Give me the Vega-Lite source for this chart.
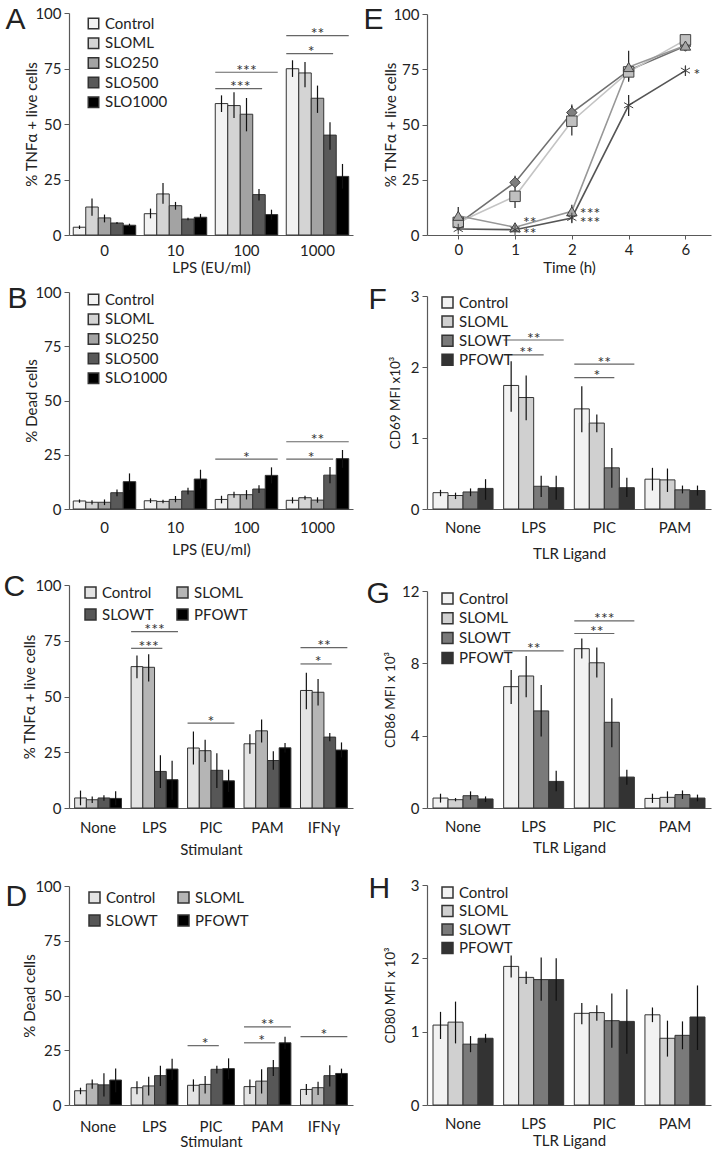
{
  "$schema": "https://vega.github.io/schema/vega-lite/v6.json",
  "background": "white",
  "padding": {"left": 3, "top": 4, "right": 4, "bottom": 2},
  "columns": 2,
  "spacing": {"row": 57, "column": 74},
  "bounds": "flush",
  "resolve": {
    "scale": {"x": "independent", "y": "independent", "xOffset": "independent", "fill": "independent", "stroke": "independent", "shape": "independent"},
    "legend": {"fill": "independent", "shape": "independent", "stroke": "independent"},
    "axis": {"x": "independent", "y": "independent"}
  },
  "config": {
    "font": "Lato",
    "view": {"stroke": null},
    "axis": {"grid": false, "labelFont": "Lato", "titleFont": "Lato", "labelFontSize": 15, "titleFontSize": 15, "titleFontWeight": "normal", "labelColor": "#222222", "titleColor": "#222222", "domainColor": "#595959", "tickColor": "#595959", "domainWidth": 1.2},
    "axisX": {"ticks": false, "labelAngle": 0},
    "axisY": {"tickSize": 5, "labelPadding": 3, "titleBaseline": "middle", "format": "d"},
    "legend": {"labelFont": "Lato", "labelFontSize": 15, "labelColor": "#222222", "symbolType": "square", "labelOffset": 4, "padding": 0},
    "text": {"fill": "#333333", "font": "Lato"}
  },
  "datasets": {
    "aBars": [
      {"g": "0", "s": "Control", "v": 3.5, "lo": 2.7, "hi": 4.3},
      {"g": "0", "s": "SLOML", "v": 12.6, "lo": 8.7, "hi": 16.4},
      {"g": "0", "s": "SLO250", "v": 7.7, "lo": 5.7, "hi": 9.2},
      {"g": "0", "s": "SLO500", "v": 5.4, "lo": 5.0, "hi": 5.9},
      {"g": "0", "s": "SLO1000", "v": 4.4, "lo": 3.6, "hi": 5.1},
      {"g": "10", "s": "Control", "v": 9.6, "lo": 7.5, "hi": 11.9},
      {"g": "10", "s": "SLOML", "v": 18.5, "lo": 14.1, "hi": 23.4},
      {"g": "10", "s": "SLO250", "v": 13.2, "lo": 11.4, "hi": 14.9},
      {"g": "10", "s": "SLO500", "v": 7.2, "lo": 6.6, "hi": 7.8},
      {"g": "10", "s": "SLO1000", "v": 8.0, "lo": 6.6, "hi": 9.5},
      {"g": "100", "s": "Control", "v": 59.2, "lo": 55.4, "hi": 62.9},
      {"g": "100", "s": "SLOML", "v": 58.3, "lo": 52.7, "hi": 64.3},
      {"g": "100", "s": "SLO250", "v": 54.4, "lo": 46.7, "hi": 61.7},
      {"g": "100", "s": "SLO500", "v": 18.2, "lo": 15.5, "hi": 20.7},
      {"g": "100", "s": "SLO1000", "v": 9.2, "lo": 6.9, "hi": 11.4},
      {"g": "1000", "s": "Control", "v": 74.9, "lo": 71.2, "hi": 78.7},
      {"g": "1000", "s": "SLOML", "v": 73.0, "lo": 66.5, "hi": 77.9},
      {"g": "1000", "s": "SLO250", "v": 61.6, "lo": 55.0, "hi": 67.3},
      {"g": "1000", "s": "SLO500", "v": 45.0, "lo": 38.4, "hi": 50.8},
      {"g": "1000", "s": "SLO1000", "v": 26.4, "lo": 20.9, "hi": 32.0}
    ],
    "aLines": [
      {"g": "100", "s": "Control", "y": 65.9, "id": "a1"},
      {"g": "100", "s": "SLO500", "y": 65.9, "id": "a1"},
      {"g": "100", "s": "Control", "y": 73.3, "id": "a2"},
      {"g": "100", "s": "SLO1000", "y": 73.3, "id": "a2"},
      {"g": "1000", "s": "Control", "y": 81.7, "id": "a3"},
      {"g": "1000", "s": "SLO500", "y": 81.7, "id": "a3"},
      {"g": "1000", "s": "Control", "y": 89.8, "id": "a4"},
      {"g": "1000", "s": "SLO1000", "y": 89.8, "id": "a4"}
    ],
    "aText": [
      {"g": "100", "at": "p3", "y": 65.9, "label": "***"},
      {"g": "100", "at": "p4", "y": 73.3, "label": "***"},
      {"g": "1000", "at": "p3", "y": 81.7, "label": "*"},
      {"g": "1000", "at": "p4", "y": 89.8, "label": "**"}
    ],
    "bBars": [
      {"g": "0", "s": "Control", "v": 3.7, "lo": 2.9, "hi": 4.4},
      {"g": "0", "s": "SLOML", "v": 3.1, "lo": 2.1, "hi": 4.0},
      {"g": "0", "s": "SLO250", "v": 3.1, "lo": 1.8, "hi": 4.4},
      {"g": "0", "s": "SLO500", "v": 7.5, "lo": 5.9, "hi": 9.0},
      {"g": "0", "s": "SLO1000", "v": 12.6, "lo": 8.8, "hi": 16.4},
      {"g": "10", "s": "Control", "v": 3.8, "lo": 2.8, "hi": 4.9},
      {"g": "10", "s": "SLOML", "v": 3.5, "lo": 2.6, "hi": 4.3},
      {"g": "10", "s": "SLO250", "v": 4.4, "lo": 3.1, "hi": 6.0},
      {"g": "10", "s": "SLO500", "v": 8.3, "lo": 6.7, "hi": 9.8},
      {"g": "10", "s": "SLO1000", "v": 13.8, "lo": 9.5, "hi": 18.1},
      {"g": "100", "s": "Control", "v": 4.4, "lo": 2.6, "hi": 6.1},
      {"g": "100", "s": "SLOML", "v": 6.6, "lo": 5.2, "hi": 8.0},
      {"g": "100", "s": "SLO250", "v": 6.6, "lo": 4.4, "hi": 8.7},
      {"g": "100", "s": "SLO500", "v": 9.2, "lo": 7.4, "hi": 10.9},
      {"g": "100", "s": "SLO1000", "v": 15.5, "lo": 11.8, "hi": 19.2},
      {"g": "1000", "s": "Control", "v": 4.0, "lo": 2.6, "hi": 5.4},
      {"g": "1000", "s": "SLOML", "v": 5.2, "lo": 4.3, "hi": 6.1},
      {"g": "1000", "s": "SLO250", "v": 4.1, "lo": 2.9, "hi": 5.4},
      {"g": "1000", "s": "SLO500", "v": 15.6, "lo": 11.9, "hi": 19.3},
      {"g": "1000", "s": "SLO1000", "v": 23.2, "lo": 19.0, "hi": 27.2}
    ],
    "bLines": [
      {"g": "100", "s": "Control", "y": 23.0, "id": "b1"},
      {"g": "100", "s": "SLO1000", "y": 23.0, "id": "b1"},
      {"g": "1000", "s": "Control", "y": 23.0, "id": "b2"},
      {"g": "1000", "s": "SLO500", "y": 23.0, "id": "b2"},
      {"g": "1000", "s": "Control", "y": 31.0, "id": "b3"},
      {"g": "1000", "s": "SLO1000", "y": 31.0, "id": "b3"}
    ],
    "bText": [
      {"g": "100", "at": "p4", "y": 23.0, "label": "*"},
      {"g": "1000", "at": "p3", "y": 23.0, "label": "*"},
      {"g": "1000", "at": "p4", "y": 31.0, "label": "**"}
    ],
    "cBars": [
      {"g": "None", "s": "Control", "v": 4.5, "lo": 1.2, "hi": 7.8},
      {"g": "None", "s": "SLOML", "v": 3.7, "lo": 2.2, "hi": 5.2},
      {"g": "None", "s": "SLOWT", "v": 4.5, "lo": 3.3, "hi": 5.7},
      {"g": "None", "s": "PFOWT", "v": 4.3, "lo": 1.2, "hi": 7.5},
      {"g": "LPS", "s": "Control", "v": 63.4, "lo": 58.2, "hi": 68.4},
      {"g": "LPS", "s": "SLOML", "v": 63.1, "lo": 56.7, "hi": 69.0},
      {"g": "LPS", "s": "SLOWT", "v": 16.4, "lo": 9.0, "hi": 23.6},
      {"g": "LPS", "s": "PFOWT", "v": 12.7, "lo": 3.7, "hi": 21.2},
      {"g": "PIC", "s": "Control", "v": 26.9, "lo": 19.5, "hi": 34.3},
      {"g": "PIC", "s": "SLOML", "v": 25.7, "lo": 20.6, "hi": 30.6},
      {"g": "PIC", "s": "SLOWT", "v": 16.9, "lo": 9.0, "hi": 24.6},
      {"g": "PIC", "s": "PFOWT", "v": 12.2, "lo": 7.2, "hi": 17.2},
      {"g": "PAM", "s": "Control", "v": 28.8, "lo": 24.3, "hi": 33.1},
      {"g": "PAM", "s": "SLOML", "v": 34.6, "lo": 29.4, "hi": 39.7},
      {"g": "PAM", "s": "SLOWT", "v": 21.3, "lo": 17.2, "hi": 25.4},
      {"g": "PAM", "s": "PFOWT", "v": 27.0, "lo": 24.9, "hi": 29.1},
      {"g": "IFNγ", "s": "Control", "v": 52.7, "lo": 44.3, "hi": 60.7},
      {"g": "IFNγ", "s": "SLOML", "v": 51.9, "lo": 46.0, "hi": 57.8},
      {"g": "IFNγ", "s": "SLOWT", "v": 31.8, "lo": 29.9, "hi": 33.6},
      {"g": "IFNγ", "s": "PFOWT", "v": 26.0, "lo": 22.7, "hi": 29.4}
    ],
    "cLines": [
      {"g": "LPS", "s": "Control", "y": 71.6, "id": "c1"},
      {"g": "LPS", "s": "SLOWT", "y": 71.6, "id": "c1"},
      {"g": "LPS", "s": "Control", "y": 79.1, "id": "c2"},
      {"g": "LPS", "s": "PFOWT", "y": 79.1, "id": "c2"},
      {"g": "PIC", "s": "Control", "y": 38.1, "id": "c3"},
      {"g": "PIC", "s": "PFOWT", "y": 38.1, "id": "c3"},
      {"g": "IFNγ", "s": "Control", "y": 64.6, "id": "c4"},
      {"g": "IFNγ", "s": "SLOWT", "y": 64.6, "id": "c4"},
      {"g": "IFNγ", "s": "Control", "y": 71.9, "id": "c5"},
      {"g": "IFNγ", "s": "PFOWT", "y": 71.9, "id": "c5"}
    ],
    "cText": [
      {"g": "LPS", "at": "p2", "y": 71.6, "label": "***"},
      {"g": "LPS", "at": "p3", "y": 79.1, "label": "***"},
      {"g": "PIC", "at": "p3", "y": 38.1, "label": "*"},
      {"g": "IFNγ", "at": "p2", "y": 64.6, "label": "*"},
      {"g": "IFNγ", "at": "p3", "y": 71.9, "label": "**"}
    ],
    "dBars": [
      {"g": "None", "s": "Control", "v": 6.5, "lo": 4.9, "hi": 7.9},
      {"g": "None", "s": "SLOML", "v": 9.6, "lo": 7.4, "hi": 11.7},
      {"g": "None", "s": "SLOWT", "v": 9.2, "lo": 3.9, "hi": 14.5},
      {"g": "None", "s": "PFOWT", "v": 11.4, "lo": 5.8, "hi": 16.7},
      {"g": "LPS", "s": "Control", "v": 7.9, "lo": 4.9, "hi": 10.9},
      {"g": "LPS", "s": "SLOML", "v": 8.7, "lo": 4.3, "hi": 12.9},
      {"g": "LPS", "s": "SLOWT", "v": 13.4, "lo": 8.7, "hi": 17.9},
      {"g": "LPS", "s": "PFOWT", "v": 16.4, "lo": 11.4, "hi": 21.1},
      {"g": "PIC", "s": "Control", "v": 9.0, "lo": 6.1, "hi": 11.7},
      {"g": "PIC", "s": "SLOML", "v": 9.4, "lo": 5.3, "hi": 13.2},
      {"g": "PIC", "s": "SLOWT", "v": 16.3, "lo": 14.4, "hi": 17.9},
      {"g": "PIC", "s": "PFOWT", "v": 16.6, "lo": 11.7, "hi": 21.3},
      {"g": "PAM", "s": "Control", "v": 8.4, "lo": 5.0, "hi": 11.7},
      {"g": "PAM", "s": "SLOML", "v": 10.9, "lo": 5.3, "hi": 16.3},
      {"g": "PAM", "s": "SLOWT", "v": 17.0, "lo": 13.2, "hi": 20.5},
      {"g": "PAM", "s": "PFOWT", "v": 28.4, "lo": 25.4, "hi": 31.2},
      {"g": "IFNγ", "s": "Control", "v": 7.1, "lo": 4.6, "hi": 9.6},
      {"g": "IFNγ", "s": "SLOML", "v": 7.9, "lo": 4.6, "hi": 10.6},
      {"g": "IFNγ", "s": "SLOWT", "v": 13.4, "lo": 8.4, "hi": 18.2},
      {"g": "IFNγ", "s": "PFOWT", "v": 14.4, "lo": 12.2, "hi": 16.6}
    ],
    "dLines": [
      {"g": "PIC", "s": "Control", "y": 27.1, "id": "d1"},
      {"g": "PIC", "s": "SLOWT", "y": 27.1, "id": "d1"},
      {"g": "PAM", "s": "Control", "y": 28.4, "id": "d2"},
      {"g": "PAM", "s": "SLOWT", "y": 28.4, "id": "d2"},
      {"g": "PAM", "s": "Control", "y": 35.7, "id": "d3"},
      {"g": "PAM", "s": "PFOWT", "y": 35.7, "id": "d3"},
      {"g": "IFNγ", "s": "Control", "y": 31.2, "id": "d4"},
      {"g": "IFNγ", "s": "PFOWT", "y": 31.2, "id": "d4"}
    ],
    "dText": [
      {"g": "PIC", "at": "p2", "y": 27.1, "label": "*"},
      {"g": "PAM", "at": "p2", "y": 28.4, "label": "*"},
      {"g": "PAM", "at": "p3", "y": 35.7, "label": "**"},
      {"g": "IFNγ", "at": "p3", "y": 31.2, "label": "*"}
    ],
    "eData": [
      {"s": "Control", "t": "0", "v": 5.0, "lo": 4.0, "hi": 6.0},
      {"s": "Control", "t": "1", "v": 23.8, "lo": 21.7, "hi": 26.8},
      {"s": "Control", "t": "2", "v": 55.4, "lo": 52.0, "hi": 59.0},
      {"s": "Control", "t": "4", "v": 74.5, "lo": 72.0, "hi": 77.0},
      {"s": "Control", "t": "6", "v": 85.5, "lo": 84.0, "hi": 87.0},
      {"s": "SLOML", "t": "0", "v": 5.7, "lo": 4.0, "hi": 7.5},
      {"s": "SLOML", "t": "1", "v": 17.5, "lo": 12.2, "hi": 22.0},
      {"s": "SLOML", "t": "2", "v": 51.5, "lo": 45.0, "hi": 58.4},
      {"s": "SLOML", "t": "4", "v": 73.8, "lo": 70.0, "hi": 77.0},
      {"s": "SLOML", "t": "6", "v": 88.3, "lo": 87.0, "hi": 89.5},
      {"s": "SLOWT", "t": "0", "v": 8.7, "lo": 5.1, "hi": 12.7},
      {"s": "SLOWT", "t": "1", "v": 3.5, "lo": 2.5, "hi": 4.5},
      {"s": "SLOWT", "t": "2", "v": 10.7, "lo": 7.7, "hi": 13.7},
      {"s": "SLOWT", "t": "4", "v": 76.0, "lo": 69.4, "hi": 83.4},
      {"s": "SLOWT", "t": "6", "v": 85.7, "lo": 84.0, "hi": 87.5},
      {"s": "PFOWT", "t": "0", "v": 2.7, "lo": 2.0, "hi": 3.5},
      {"s": "PFOWT", "t": "1", "v": 2.4, "lo": 1.5, "hi": 3.3},
      {"s": "PFOWT", "t": "2", "v": 7.7, "lo": 5.5, "hi": 9.9},
      {"s": "PFOWT", "t": "4", "v": 58.7, "lo": 53.9, "hi": 63.4},
      {"s": "PFOWT", "t": "6", "v": 74.4, "lo": 72.0, "hi": 76.5}
    ],
    "eText": [
      {"t": "1", "y": 7.4, "label": "**"},
      {"t": "1", "y": 2.4, "label": "**"},
      {"t": "2", "y": 11.4, "label": "***"},
      {"t": "2", "y": 7.4, "label": "***"},
      {"t": "6", "y": 74.4, "label": "*"}
    ],
    "fBars": [
      {"g": "None", "s": "Control", "v": 0.23, "lo": 0.18, "hi": 0.27},
      {"g": "None", "s": "SLOML", "v": 0.19, "lo": 0.14, "hi": 0.23},
      {"g": "None", "s": "SLOWT", "v": 0.24, "lo": 0.18, "hi": 0.29},
      {"g": "None", "s": "PFOWT", "v": 0.29, "lo": 0.13, "hi": 0.42},
      {"g": "LPS", "s": "Control", "v": 1.74, "lo": 1.37, "hi": 2.08},
      {"g": "LPS", "s": "SLOML", "v": 1.57, "lo": 1.25, "hi": 1.88},
      {"g": "LPS", "s": "SLOWT", "v": 0.32, "lo": 0.17, "hi": 0.47},
      {"g": "LPS", "s": "PFOWT", "v": 0.30, "lo": 0.13, "hi": 0.47},
      {"g": "PIC", "s": "Control", "v": 1.41, "lo": 1.08, "hi": 1.73},
      {"g": "PIC", "s": "SLOML", "v": 1.21, "lo": 1.08, "hi": 1.33},
      {"g": "PIC", "s": "SLOWT", "v": 0.58, "lo": 0.30, "hi": 0.86},
      {"g": "PIC", "s": "PFOWT", "v": 0.30, "lo": 0.17, "hi": 0.44},
      {"g": "PAM", "s": "Control", "v": 0.42, "lo": 0.26, "hi": 0.58},
      {"g": "PAM", "s": "SLOML", "v": 0.41, "lo": 0.24, "hi": 0.57},
      {"g": "PAM", "s": "SLOWT", "v": 0.27, "lo": 0.22, "hi": 0.33},
      {"g": "PAM", "s": "PFOWT", "v": 0.26, "lo": 0.19, "hi": 0.33}
    ],
    "fLines": [
      {"g": "LPS", "s": "Control", "y": 2.17, "id": "f1"},
      {"g": "LPS", "s": "SLOWT", "y": 2.17, "id": "f1"},
      {"g": "LPS", "s": "Control", "y": 2.38, "id": "f2"},
      {"g": "LPS", "s": "PFOWT", "y": 2.38, "id": "f2"},
      {"g": "PIC", "s": "Control", "y": 1.85, "id": "f3"},
      {"g": "PIC", "s": "SLOWT", "y": 1.85, "id": "f3"},
      {"g": "PIC", "s": "Control", "y": 2.04, "id": "f4"},
      {"g": "PIC", "s": "PFOWT", "y": 2.04, "id": "f4"}
    ],
    "fText": [
      {"g": "LPS", "at": "p2", "y": 2.17, "label": "**"},
      {"g": "LPS", "at": "p3", "y": 2.38, "label": "**"},
      {"g": "PIC", "at": "p2", "y": 1.85, "label": "*"},
      {"g": "PIC", "at": "p3", "y": 2.04, "label": "**"}
    ],
    "gBars": [
      {"g": "None", "s": "Control", "v": 0.55, "lo": 0.30, "hi": 0.79},
      {"g": "None", "s": "SLOML", "v": 0.46, "lo": 0.37, "hi": 0.55},
      {"g": "None", "s": "SLOWT", "v": 0.68, "lo": 0.46, "hi": 0.92},
      {"g": "None", "s": "PFOWT", "v": 0.50, "lo": 0.33, "hi": 0.64},
      {"g": "LPS", "s": "Control", "v": 6.71, "lo": 5.75, "hi": 7.63},
      {"g": "LPS", "s": "SLOML", "v": 7.30, "lo": 6.12, "hi": 8.40},
      {"g": "LPS", "s": "SLOWT", "v": 5.37, "lo": 3.95, "hi": 6.80},
      {"g": "LPS", "s": "PFOWT", "v": 1.47, "lo": 0.92, "hi": 2.06},
      {"g": "PIC", "s": "Control", "v": 8.81, "lo": 8.27, "hi": 9.38},
      {"g": "PIC", "s": "SLOML", "v": 8.03, "lo": 7.22, "hi": 8.88},
      {"g": "PIC", "s": "SLOWT", "v": 4.74, "lo": 3.36, "hi": 6.07},
      {"g": "PIC", "s": "PFOWT", "v": 1.71, "lo": 1.29, "hi": 2.11},
      {"g": "PAM", "s": "Control", "v": 0.53, "lo": 0.28, "hi": 0.79},
      {"g": "PAM", "s": "SLOML", "v": 0.59, "lo": 0.28, "hi": 0.92},
      {"g": "PAM", "s": "SLOWT", "v": 0.74, "lo": 0.50, "hi": 0.97},
      {"g": "PAM", "s": "PFOWT", "v": 0.55, "lo": 0.37, "hi": 0.74}
    ],
    "gLines": [
      {"g": "LPS", "s": "Control", "y": 8.69, "id": "g1"},
      {"g": "LPS", "s": "PFOWT", "y": 8.69, "id": "g1"},
      {"g": "PIC", "s": "Control", "y": 9.65, "id": "g2"},
      {"g": "PIC", "s": "SLOWT", "y": 9.65, "id": "g2"},
      {"g": "PIC", "s": "Control", "y": 10.35, "id": "g3"},
      {"g": "PIC", "s": "PFOWT", "y": 10.35, "id": "g3"}
    ],
    "gText": [
      {"g": "LPS", "at": "p3", "y": 8.69, "label": "**"},
      {"g": "PIC", "at": "p2", "y": 9.65, "label": "**"},
      {"g": "PIC", "at": "p3", "y": 10.35, "label": "***"}
    ],
    "hBars": [
      {"g": "None", "s": "Control", "v": 1.09, "lo": 0.90, "hi": 1.27},
      {"g": "None", "s": "SLOML", "v": 1.13, "lo": 0.84, "hi": 1.41},
      {"g": "None", "s": "SLOWT", "v": 0.83, "lo": 0.72, "hi": 0.94},
      {"g": "None", "s": "PFOWT", "v": 0.91, "lo": 0.85, "hi": 0.97},
      {"g": "LPS", "s": "Control", "v": 1.89, "lo": 1.74, "hi": 2.04},
      {"g": "LPS", "s": "SLOML", "v": 1.74, "lo": 1.65, "hi": 1.82},
      {"g": "LPS", "s": "SLOWT", "v": 1.71, "lo": 1.42, "hi": 2.01},
      {"g": "LPS", "s": "PFOWT", "v": 1.71, "lo": 1.42, "hi": 2.00},
      {"g": "PIC", "s": "Control", "v": 1.25, "lo": 1.10, "hi": 1.39},
      {"g": "PIC", "s": "SLOML", "v": 1.26, "lo": 1.15, "hi": 1.36},
      {"g": "PIC", "s": "SLOWT", "v": 1.15, "lo": 0.78, "hi": 1.52},
      {"g": "PIC", "s": "PFOWT", "v": 1.14, "lo": 0.70, "hi": 1.58},
      {"g": "PAM", "s": "Control", "v": 1.23, "lo": 1.13, "hi": 1.33},
      {"g": "PAM", "s": "SLOML", "v": 0.91, "lo": 0.66, "hi": 1.15},
      {"g": "PAM", "s": "SLOWT", "v": 0.95, "lo": 0.76, "hi": 1.14},
      {"g": "PAM", "s": "PFOWT", "v": 1.20, "lo": 0.75, "hi": 1.63}
    ]
  },
  "concat": [
    {
      "width": 284, "height": 222,
      "resolve": {"scale": {"xOffset": "independent"}, "axis": {"x": "independent"}},
      "layer": [
        {
          "data": {"name": "aBars"},
          "mark": {"type": "bar", "stroke": "#333333", "strokeWidth": 1},
          "encoding": {
            "x": {"field": "g", "type": "nominal", "title": "LPS (EU/ml)", "scale": {"domain": ["0", "10", "100", "1000"], "paddingInner": 0.12, "paddingOuter": 0.06}, "axis": {"labelPadding": 8.5, "titlePadding": 2}},
            "xOffset": {"field": "s", "type": "nominal", "scale": {"domain": ["Control", "SLOML", "SLO250", "SLO500", "SLO1000"], "paddingInner": 0, "paddingOuter": 0}},
            "y": {"field": "v", "type": "quantitative", "title": "% TNFα + live cells", "scale": {"domain": [0, 100], "nice": false}, "axis": {"values": [0, 25, 50, 75, 100], "titleX": -38}},
            "fill": {"field": "s", "type": "nominal", "scale": {"domain": ["Control", "SLOML", "SLO250", "SLO500", "SLO1000"], "range": ["#f2f2f2", "#d4d4d4", "#a3a3a3", "#595959", "#000000"]}, "legend": {"title": null, "orient": "none", "legendX": 17, "legendY": 3, "symbolSize": 110, "rowPadding": 2.7, "encode": {"symbols": {"update": {"stroke": {"value": "#333333"}, "strokeWidth": {"value": 1}}}}}}
          }
        },
        {
          "data": {"name": "aBars"},
          "mark": {"type": "rule", "color": "#111111", "strokeWidth": 1.2},
          "encoding": {
            "x": {"field": "g", "type": "nominal", "axis": null},
            "xOffset": {"field": "s", "type": "nominal", "scale": {"domain": ["Control", "SLOML", "SLO250", "SLO500", "SLO1000"], "paddingInner": 0, "paddingOuter": 0}},
            "y": {"field": "lo", "type": "quantitative", "title": "% TNFα + live cells"},
            "y2": {"field": "hi"}
          }
        },
        {
          "data": {"name": "aLines"},
          "mark": {"type": "line", "color": "#666666", "strokeWidth": 1.2},
          "encoding": {
            "x": {"field": "g", "type": "nominal", "axis": {"orient": "top", "title": "A", "titleX": -64, "titleY": 15, "titleAngle": 0, "titleAlign": "left", "titleBaseline": "alphabetic", "titleFont": "Liberation Sans", "titleFontSize": 30, "titleFontWeight": "normal", "domain": false, "labels": false, "ticks": false}},
            "xOffset": {"field": "s", "type": "nominal", "scale": {"domain": ["Control", "SLOML", "SLO250", "SLO500", "SLO1000"], "paddingInner": 0, "paddingOuter": 0}},
            "y": {"field": "y", "type": "quantitative", "title": "% TNFα + live cells"},
            "detail": {"field": "id", "type": "nominal"}
          }
        },
        {
          "data": {"name": "aText"},
          "mark": {"type": "text", "fontSize": 16, "fill": "#333333", "dy": 3.5, "baseline": "alphabetic"},
          "encoding": {
            "x": {"field": "g", "type": "nominal", "axis": null},
            "xOffset": {"field": "at", "type": "nominal", "scale": {"type": "point", "domain": ["p0", "p1", "p2", "p3", "p4", "p5", "p6", "p7", "p8"], "padding": 1}},
            "y": {"field": "y", "type": "quantitative", "title": "% TNFα + live cells"},
            "text": {"field": "label", "type": "nominal"}
          }
        }
      ]
    },
    {
      "width": 284, "height": 222,
      "resolve": {"axis": {"x": "independent"}},
      "layer": [
        {
          "data": {"name": "eData"},
          "mark": {"type": "line", "strokeWidth": 1.6},
          "encoding": {
            "x": {"field": "t", "type": "ordinal", "title": "Time (h)", "scale": {"type": "point", "domain": ["0", "1", "2", "4", "6"], "padding": 0.5, "align": 0.55}, "axis": {"labelPadding": 3.6, "titlePadding": 3, "ticks": true, "tickSize": 4}},
            "y": {"field": "v", "type": "quantitative", "title": "% TNFα + live cells", "scale": {"domain": [0, 100], "nice": false, "rangeMax": 1}, "axis": {"values": [0, 25, 50, 75, 100], "titleX": -36.5}},
            "stroke": {"field": "s", "type": "nominal", "scale": {"domain": ["Control", "SLOML", "SLOWT", "PFOWT"], "range": ["#707070", "#c4c4c4", "#979797", "#555555"]}, "legend": null}
          }
        },
        {
          "data": {"name": "eData"},
          "mark": {"type": "rule", "color": "#222222", "strokeWidth": 1.2},
          "encoding": {
            "x": {"field": "t", "type": "ordinal", "axis": null},
            "y": {"field": "lo", "type": "quantitative", "title": "% TNFα + live cells"},
            "y2": {"field": "hi"}
          }
        },
        {
          "data": {"name": "eData"},
          "mark": {"type": "point", "filled": true, "size": 110, "stroke": "#404040", "strokeWidth": 1, "opacity": 1},
          "encoding": {
            "x": {"field": "t", "type": "ordinal", "axis": null},
            "y": {"field": "v", "type": "quantitative", "title": "% TNFα + live cells"},
            "fill": {"field": "s", "type": "nominal", "scale": {"domain": ["Control", "SLOML", "SLOWT", "PFOWT"], "range": ["#7f7f7f", "#c0c0c0", "#a6a6a6", "#333333"]}, "legend": {"title": null, "orient": "none", "legendX": 15, "legendY": 2, "symbolSize": 100, "rowPadding": 2.5, "labelOffset": 2, "encode": {"symbols": {"update": {"stroke": {"value": "#404040"}, "strokeWidth": {"value": 1}}}}}},
            "shape": {"field": "s", "type": "nominal", "scale": {"domain": ["Control", "SLOML", "SLOWT", "PFOWT"], "range": ["diamond", "square", "triangle-up", "M0,-1L0,1M-0.87,-0.5L0.87,0.5M-0.87,0.5L0.87,-0.5"]}, "legend": {"title": null, "orient": "none", "legendX": 15, "legendY": 2, "symbolSize": 100, "rowPadding": 2.5, "labelOffset": 2, "encode": {"symbols": {"update": {"stroke": {"value": "#404040"}, "strokeWidth": {"value": 1}}}}}}
          }
        },
        {
          "data": {"name": "eText"},
          "mark": {"type": "text", "fontSize": 16, "fill": "#333333", "align": "left", "dx": 8, "dy": 9, "baseline": "alphabetic"},
          "encoding": {
            "x": {"field": "t", "type": "ordinal", "axis": {"orient": "top", "title": "E", "titleX": -64, "titleY": 15, "titleAngle": 0, "titleAlign": "left", "titleBaseline": "alphabetic", "titleFont": "Liberation Sans", "titleFontSize": 30, "titleFontWeight": "normal", "domain": false, "labels": false, "ticks": false}},
            "y": {"field": "y", "type": "quantitative", "title": "% TNFα + live cells"},
            "text": {"field": "label", "type": "nominal"}
          }
        }
      ]
    },
    {
      "width": 284, "height": 217,
      "resolve": {"scale": {"xOffset": "independent"}, "axis": {"x": "independent"}},
      "layer": [
        {
          "data": {"name": "bBars"},
          "mark": {"type": "bar", "stroke": "#333333", "strokeWidth": 1},
          "encoding": {
            "x": {"field": "g", "type": "nominal", "title": "LPS (EU/ml)", "scale": {"domain": ["0", "10", "100", "1000"], "paddingInner": 0.12, "paddingOuter": 0.06}, "axis": {"labelPadding": 11.6, "titlePadding": 7}},
            "xOffset": {"field": "s", "type": "nominal", "scale": {"domain": ["Control", "SLOML", "SLO250", "SLO500", "SLO1000"], "paddingInner": 0, "paddingOuter": 0}},
            "y": {"field": "v", "type": "quantitative", "title": "% Dead cells", "scale": {"domain": [0, 100], "nice": false}, "axis": {"values": [0, 25, 50, 75, 100], "titleX": -38}},
            "fill": {"field": "s", "type": "nominal", "scale": {"domain": ["Control", "SLOML", "SLO250", "SLO500", "SLO1000"], "range": ["#f2f2f2", "#d4d4d4", "#a3a3a3", "#595959", "#000000"]}, "legend": {"title": null, "orient": "none", "legendX": 17, "legendY": 0, "symbolSize": 110, "rowPadding": 2.7, "encode": {"symbols": {"update": {"stroke": {"value": "#333333"}, "strokeWidth": {"value": 1}}}}}}
          }
        },
        {
          "data": {"name": "bBars"},
          "mark": {"type": "rule", "color": "#111111", "strokeWidth": 1.2},
          "encoding": {
            "x": {"field": "g", "type": "nominal", "axis": null},
            "xOffset": {"field": "s", "type": "nominal", "scale": {"domain": ["Control", "SLOML", "SLO250", "SLO500", "SLO1000"], "paddingInner": 0, "paddingOuter": 0}},
            "y": {"field": "lo", "type": "quantitative", "title": "% Dead cells"},
            "y2": {"field": "hi"}
          }
        },
        {
          "data": {"name": "bLines"},
          "mark": {"type": "line", "color": "#666666", "strokeWidth": 1.2},
          "encoding": {
            "x": {"field": "g", "type": "nominal", "axis": {"orient": "top", "title": "B", "titleX": -62, "titleY": 15, "titleAngle": 0, "titleAlign": "left", "titleBaseline": "alphabetic", "titleFont": "Liberation Sans", "titleFontSize": 30, "titleFontWeight": "normal", "domain": false, "labels": false, "ticks": false}},
            "xOffset": {"field": "s", "type": "nominal", "scale": {"domain": ["Control", "SLOML", "SLO250", "SLO500", "SLO1000"], "paddingInner": 0, "paddingOuter": 0}},
            "y": {"field": "y", "type": "quantitative", "title": "% Dead cells"},
            "detail": {"field": "id", "type": "nominal"}
          }
        },
        {
          "data": {"name": "bText"},
          "mark": {"type": "text", "fontSize": 16, "fill": "#333333", "dy": 3.5, "baseline": "alphabetic"},
          "encoding": {
            "x": {"field": "g", "type": "nominal", "axis": null},
            "xOffset": {"field": "at", "type": "nominal", "scale": {"type": "point", "domain": ["p0", "p1", "p2", "p3", "p4", "p5", "p6", "p7", "p8"], "padding": 1}},
            "y": {"field": "y", "type": "quantitative", "title": "% Dead cells"},
            "text": {"field": "label", "type": "nominal"}
          }
        }
      ]
    },
    {
      "width": 284, "height": 217,
      "resolve": {"scale": {"xOffset": "independent"}, "axis": {"x": "independent"}},
      "layer": [
        {
          "data": {"name": "fBars"},
          "mark": {"type": "bar", "stroke": "#333333", "strokeWidth": 1},
          "encoding": {
            "x": {"field": "g", "type": "nominal", "title": "TLR Ligand", "scale": {"domain": ["None", "LPS", "PIC", "PAM"], "paddingInner": 0.15, "paddingOuter": 0.085}, "axis": {"labelPadding": 11.6, "titlePadding": 11}},
            "xOffset": {"field": "s", "type": "nominal", "scale": {"domain": ["Control", "SLOML", "SLOWT", "PFOWT"], "paddingInner": 0, "paddingOuter": 0}},
            "y": {"field": "v", "type": "quantitative", "title": "CD69 MFI x10³", "scale": {"domain": [0, 3], "nice": false, "rangeMax": 4}, "axis": {"values": [0, 1, 2, 3], "titleX": -32, "titleFontSize": 13.5}},
            "fill": {"field": "s", "type": "nominal", "scale": {"domain": ["Control", "SLOML", "SLOWT", "PFOWT"], "range": ["#f2f2f2", "#d0d0d0", "#7a7a7a", "#333333"]}, "legend": {"title": null, "orient": "none", "legendX": 13, "legendY": 3, "symbolSize": 121, "rowPadding": 2.1, "encode": {"symbols": {"update": {"stroke": {"value": "#333333"}, "strokeWidth": {"value": 1}}}}}}
          }
        },
        {
          "data": {"name": "fBars"},
          "mark": {"type": "rule", "color": "#111111", "strokeWidth": 1.2},
          "encoding": {
            "x": {"field": "g", "type": "nominal", "axis": null},
            "xOffset": {"field": "s", "type": "nominal", "scale": {"domain": ["Control", "SLOML", "SLOWT", "PFOWT"], "paddingInner": 0, "paddingOuter": 0}},
            "y": {"field": "lo", "type": "quantitative", "title": "CD69 MFI x10³"},
            "y2": {"field": "hi"}
          }
        },
        {
          "data": {"name": "fLines"},
          "mark": {"type": "line", "color": "#666666", "strokeWidth": 1.2},
          "encoding": {
            "x": {"field": "g", "type": "nominal", "axis": {"orient": "top", "title": "F", "titleX": -59, "titleY": 16, "titleAngle": 0, "titleAlign": "left", "titleBaseline": "alphabetic", "titleFont": "Liberation Sans", "titleFontSize": 30, "titleFontWeight": "normal", "domain": false, "labels": false, "ticks": false}},
            "xOffset": {"field": "s", "type": "nominal", "scale": {"domain": ["Control", "SLOML", "SLOWT", "PFOWT"], "paddingInner": 0, "paddingOuter": 0}},
            "y": {"field": "y", "type": "quantitative", "title": "CD69 MFI x10³"},
            "detail": {"field": "id", "type": "nominal"}
          }
        },
        {
          "data": {"name": "fText"},
          "mark": {"type": "text", "fontSize": 16, "fill": "#333333", "dy": 3.5, "baseline": "alphabetic"},
          "encoding": {
            "x": {"field": "g", "type": "nominal", "axis": null},
            "xOffset": {"field": "at", "type": "nominal", "scale": {"type": "point", "domain": ["p0", "p1", "p2", "p3", "p4", "p5", "p6"], "padding": 1}},
            "y": {"field": "y", "type": "quantitative", "title": "CD69 MFI x10³"},
            "text": {"field": "label", "type": "nominal"}
          }
        }
      ]
    },
    {
      "width": 284, "height": 242,
      "resolve": {"scale": {"xOffset": "independent"}, "axis": {"x": "independent"}},
      "layer": [
        {
          "data": {"name": "cBars"},
          "mark": {"type": "bar", "stroke": "#333333", "strokeWidth": 1},
          "encoding": {
            "x": {"field": "g", "type": "nominal", "title": "Stimulant", "scale": {"domain": ["None", "LPS", "PIC", "PAM", "IFNγ"], "paddingInner": 0.17, "paddingOuter": 0.1}, "axis": {"labelPadding": 12.6, "titlePadding": 7}},
            "xOffset": {"field": "s", "type": "nominal", "scale": {"domain": ["Control", "SLOML", "SLOWT", "PFOWT"], "paddingInner": 0, "paddingOuter": 0}},
            "y": {"field": "v", "type": "quantitative", "title": "% TNFα + live cells", "scale": {"domain": [0, 100], "nice": false, "rangeMax": 19}, "axis": {"values": [0, 25, 50, 75, 100], "titleX": -40}},
            "fill": {"field": "s", "type": "nominal", "scale": {"domain": ["Control", "SLOML", "SLOWT", "PFOWT"], "range": ["#e3e3e3", "#b5b5b5", "#575757", "#000000"]}, "legend": {"title": null, "orient": "none", "direction": "horizontal", "columns": 2, "columnPadding": 20, "legendX": 14, "legendY": 19, "symbolSize": 121, "rowPadding": 5, "encode": {"symbols": {"update": {"stroke": {"value": "#333333"}, "strokeWidth": {"value": 1}}}}}}
          }
        },
        {
          "data": {"name": "cBars"},
          "mark": {"type": "rule", "color": "#111111", "strokeWidth": 1.2},
          "encoding": {
            "x": {"field": "g", "type": "nominal", "axis": null},
            "xOffset": {"field": "s", "type": "nominal", "scale": {"domain": ["Control", "SLOML", "SLOWT", "PFOWT"], "paddingInner": 0, "paddingOuter": 0}},
            "y": {"field": "lo", "type": "quantitative", "title": "% TNFα + live cells"},
            "y2": {"field": "hi"}
          }
        },
        {
          "data": {"name": "cLines"},
          "mark": {"type": "line", "color": "#666666", "strokeWidth": 1.2},
          "encoding": {
            "x": {"field": "g", "type": "nominal", "axis": {"orient": "top", "title": "C", "titleX": -66, "titleY": 29, "titleAngle": 0, "titleAlign": "left", "titleBaseline": "alphabetic", "titleFont": "Liberation Sans", "titleFontSize": 30, "titleFontWeight": "normal", "domain": false, "labels": false, "ticks": false}},
            "xOffset": {"field": "s", "type": "nominal", "scale": {"domain": ["Control", "SLOML", "SLOWT", "PFOWT"], "paddingInner": 0, "paddingOuter": 0}},
            "y": {"field": "y", "type": "quantitative", "title": "% TNFα + live cells"},
            "detail": {"field": "id", "type": "nominal"}
          }
        },
        {
          "data": {"name": "cText"},
          "mark": {"type": "text", "fontSize": 16, "fill": "#333333", "dy": 3.5, "baseline": "alphabetic"},
          "encoding": {
            "x": {"field": "g", "type": "nominal", "axis": null},
            "xOffset": {"field": "at", "type": "nominal", "scale": {"type": "point", "domain": ["p0", "p1", "p2", "p3", "p4", "p5", "p6"], "padding": 1}},
            "y": {"field": "y", "type": "quantitative", "title": "% TNFα + live cells"},
            "text": {"field": "label", "type": "nominal"}
          }
        }
      ]
    },
    {
      "width": 284, "height": 242,
      "resolve": {"scale": {"xOffset": "independent"}, "axis": {"x": "independent"}},
      "layer": [
        {
          "data": {"name": "gBars"},
          "mark": {"type": "bar", "stroke": "#333333", "strokeWidth": 1},
          "encoding": {
            "x": {"field": "g", "type": "nominal", "title": "TLR Ligand", "scale": {"domain": ["None", "LPS", "PIC", "PAM"], "paddingInner": 0.15, "paddingOuter": 0.085}, "axis": {"labelPadding": 11.6, "titlePadding": 6}},
            "xOffset": {"field": "s", "type": "nominal", "scale": {"domain": ["Control", "SLOML", "SLOWT", "PFOWT"], "paddingInner": 0, "paddingOuter": 0}},
            "y": {"field": "v", "type": "quantitative", "title": "CD86 MFI x 10³", "scale": {"domain": [0, 12], "nice": false, "rangeMax": 25}, "axis": {"values": [0, 4, 8, 12], "titleX": -37, "titleFontSize": 13.5}},
            "fill": {"field": "s", "type": "nominal", "scale": {"domain": ["Control", "SLOML", "SLOWT", "PFOWT"], "range": ["#f2f2f2", "#d0d0d0", "#7a7a7a", "#333333"]}, "legend": {"title": null, "orient": "none", "legendX": 13, "legendY": 25, "symbolSize": 121, "rowPadding": 2.8, "encode": {"symbols": {"update": {"stroke": {"value": "#333333"}, "strokeWidth": {"value": 1}}}}}}
          }
        },
        {
          "data": {"name": "gBars"},
          "mark": {"type": "rule", "color": "#111111", "strokeWidth": 1.2},
          "encoding": {
            "x": {"field": "g", "type": "nominal", "axis": null},
            "xOffset": {"field": "s", "type": "nominal", "scale": {"domain": ["Control", "SLOML", "SLOWT", "PFOWT"], "paddingInner": 0, "paddingOuter": 0}},
            "y": {"field": "lo", "type": "quantitative", "title": "CD86 MFI x 10³"},
            "y2": {"field": "hi"}
          }
        },
        {
          "data": {"name": "gLines"},
          "mark": {"type": "line", "color": "#666666", "strokeWidth": 1.2},
          "encoding": {
            "x": {"field": "g", "type": "nominal", "axis": {"orient": "top", "title": "G", "titleX": -61, "titleY": 36, "titleAngle": 0, "titleAlign": "left", "titleBaseline": "alphabetic", "titleFont": "Liberation Sans", "titleFontSize": 30, "titleFontWeight": "normal", "domain": false, "labels": false, "ticks": false}},
            "xOffset": {"field": "s", "type": "nominal", "scale": {"domain": ["Control", "SLOML", "SLOWT", "PFOWT"], "paddingInner": 0, "paddingOuter": 0}},
            "y": {"field": "y", "type": "quantitative", "title": "CD86 MFI x 10³"},
            "detail": {"field": "id", "type": "nominal"}
          }
        },
        {
          "data": {"name": "gText"},
          "mark": {"type": "text", "fontSize": 16, "fill": "#333333", "dy": 3.5, "baseline": "alphabetic"},
          "encoding": {
            "x": {"field": "g", "type": "nominal", "axis": null},
            "xOffset": {"field": "at", "type": "nominal", "scale": {"type": "point", "domain": ["p0", "p1", "p2", "p3", "p4", "p5", "p6"], "padding": 1}},
            "y": {"field": "y", "type": "quantitative", "title": "CD86 MFI x 10³"},
            "text": {"field": "label", "type": "nominal"}
          }
        }
      ]
    },
    {
      "width": 284, "height": 240,
      "resolve": {"scale": {"xOffset": "independent"}, "axis": {"x": "independent"}},
      "layer": [
        {
          "data": {"name": "dBars"},
          "mark": {"type": "bar", "stroke": "#333333", "strokeWidth": 1},
          "encoding": {
            "x": {"field": "g", "type": "nominal", "title": "Stimulant", "scale": {"domain": ["None", "LPS", "PIC", "PAM", "IFNγ"], "paddingInner": 0.17, "paddingOuter": 0.1}, "axis": {"labelPadding": 14, "titlePadding": 0}},
            "xOffset": {"field": "s", "type": "nominal", "scale": {"domain": ["Control", "SLOML", "SLOWT", "PFOWT"], "paddingInner": 0, "paddingOuter": 0}},
            "y": {"field": "v", "type": "quantitative", "title": "% Dead cells", "scale": {"domain": [0, 100], "nice": false, "rangeMax": 21}, "axis": {"values": [0, 25, 50, 75, 100], "titleX": -40}},
            "fill": {"field": "s", "type": "nominal", "scale": {"domain": ["Control", "SLOML", "SLOWT", "PFOWT"], "range": ["#e3e3e3", "#b5b5b5", "#575757", "#000000"]}, "legend": {"title": null, "orient": "none", "direction": "horizontal", "columns": 2, "columnPadding": 17, "legendX": 18, "legendY": 25, "symbolSize": 121, "rowPadding": 6, "encode": {"symbols": {"update": {"stroke": {"value": "#333333"}, "strokeWidth": {"value": 1}}}}}}
          }
        },
        {
          "data": {"name": "dBars"},
          "mark": {"type": "rule", "color": "#111111", "strokeWidth": 1.2},
          "encoding": {
            "x": {"field": "g", "type": "nominal", "axis": null},
            "xOffset": {"field": "s", "type": "nominal", "scale": {"domain": ["Control", "SLOML", "SLOWT", "PFOWT"], "paddingInner": 0, "paddingOuter": 0}},
            "y": {"field": "lo", "type": "quantitative", "title": "% Dead cells"},
            "y2": {"field": "hi"}
          }
        },
        {
          "data": {"name": "dLines"},
          "mark": {"type": "line", "color": "#666666", "strokeWidth": 1.2},
          "encoding": {
            "x": {"field": "g", "type": "nominal", "axis": {"orient": "top", "title": "D", "titleX": -64, "titleY": 40, "titleAngle": 0, "titleAlign": "left", "titleBaseline": "alphabetic", "titleFont": "Liberation Sans", "titleFontSize": 30, "titleFontWeight": "normal", "domain": false, "labels": false, "ticks": false}},
            "xOffset": {"field": "s", "type": "nominal", "scale": {"domain": ["Control", "SLOML", "SLOWT", "PFOWT"], "paddingInner": 0, "paddingOuter": 0}},
            "y": {"field": "y", "type": "quantitative", "title": "% Dead cells"},
            "detail": {"field": "id", "type": "nominal"}
          }
        },
        {
          "data": {"name": "dText"},
          "mark": {"type": "text", "fontSize": 16, "fill": "#333333", "dy": 3.5, "baseline": "alphabetic"},
          "encoding": {
            "x": {"field": "g", "type": "nominal", "axis": null},
            "xOffset": {"field": "at", "type": "nominal", "scale": {"type": "point", "domain": ["p0", "p1", "p2", "p3", "p4", "p5", "p6"], "padding": 1}},
            "y": {"field": "y", "type": "quantitative", "title": "% Dead cells"},
            "text": {"field": "label", "type": "nominal"}
          }
        }
      ]
    },
    {
      "width": 284, "height": 240,
      "resolve": {"axis": {"x": "independent"}},
      "layer": [
        {
          "data": {"name": "hBars"},
          "mark": {"type": "bar", "stroke": "#333333", "strokeWidth": 1},
          "encoding": {
            "x": {"field": "g", "type": "nominal", "title": "TLR Ligand", "scale": {"domain": ["None", "LPS", "PIC", "PAM"], "paddingInner": 0.15, "paddingOuter": 0.085}, "axis": {"labelPadding": 11.6, "titlePadding": 2}},
            "xOffset": {"field": "s", "type": "nominal", "scale": {"domain": ["Control", "SLOML", "SLOWT", "PFOWT"], "paddingInner": 0, "paddingOuter": 0}},
            "y": {"field": "v", "type": "quantitative", "title": "CD80 MFI x 10³", "scale": {"domain": [0, 3], "nice": false, "rangeMax": 20}, "axis": {"values": [0, 1, 2, 3], "titleX": -36.5, "titleFontSize": 13.5}},
            "fill": {"field": "s", "type": "nominal", "scale": {"domain": ["Control", "SLOML", "SLOWT", "PFOWT"], "range": ["#f2f2f2", "#d0d0d0", "#7a7a7a", "#333333"]}, "legend": {"title": null, "orient": "none", "legendX": 13, "legendY": 20, "symbolSize": 121, "rowPadding": 1.5, "encode": {"symbols": {"update": {"stroke": {"value": "#333333"}, "strokeWidth": {"value": 1}}}}}}
          }
        },
        {
          "data": {"name": "hBars"},
          "mark": {"type": "rule", "color": "#111111", "strokeWidth": 1.2},
          "encoding": {
            "x": {"field": "g", "type": "nominal", "axis": {"orient": "top", "title": "H", "titleX": -59, "titleY": 32, "titleAngle": 0, "titleAlign": "left", "titleBaseline": "alphabetic", "titleFont": "Liberation Sans", "titleFontSize": 30, "titleFontWeight": "normal", "domain": false, "labels": false, "ticks": false}},
            "xOffset": {"field": "s", "type": "nominal", "scale": {"domain": ["Control", "SLOML", "SLOWT", "PFOWT"], "paddingInner": 0, "paddingOuter": 0}},
            "y": {"field": "lo", "type": "quantitative", "title": "CD80 MFI x 10³"},
            "y2": {"field": "hi"}
          }
        }
      ]
    }
  ]
}
